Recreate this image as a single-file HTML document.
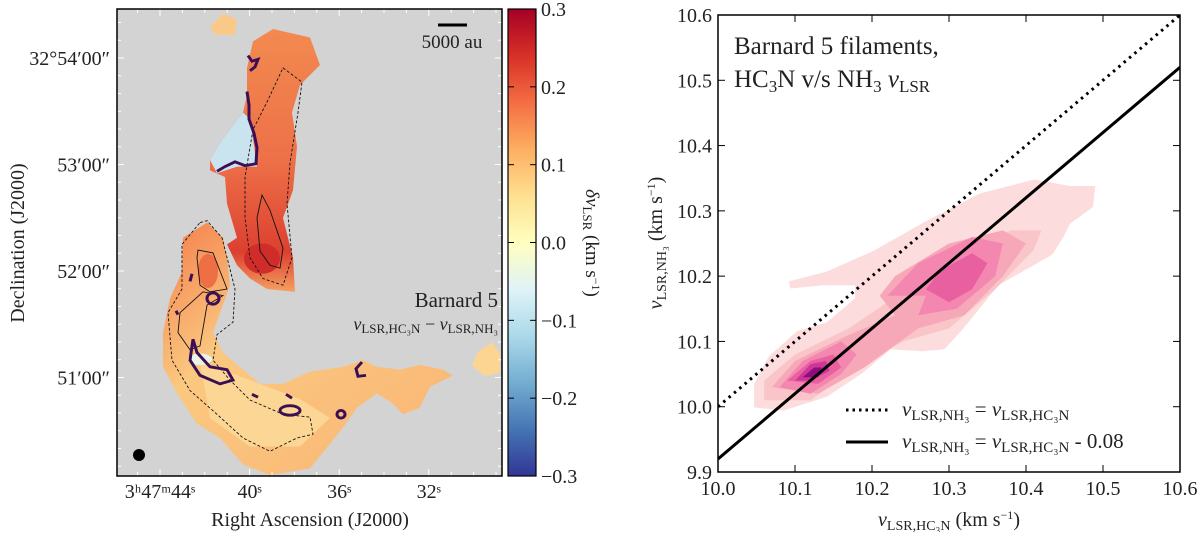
<!DOCTYPE html>
<html><head><meta charset="utf-8">
<style>
body{margin:0;background:#fff;width:1200px;height:532px;overflow:hidden;font-family:"Liberation Serif","DejaVu Serif",serif;}
svg text{font-family:"Liberation Serif","DejaVu Serif",serif;fill:#222}
</style></head>
<body>
<svg id="fig" width="1200" height="532" viewBox="0 0 1200 532" xmlns="http://www.w3.org/2000/svg">
<defs>
<linearGradient id="cmap" x1="0" y1="1" x2="0" y2="0">
<stop offset="0" stop-color="#313695"/><stop offset="0.1" stop-color="#4575b4"/><stop offset="0.2" stop-color="#74add1"/><stop offset="0.3" stop-color="#abd9e9"/><stop offset="0.4" stop-color="#e0f3f8"/><stop offset="0.5" stop-color="#ffffbf"/><stop offset="0.6" stop-color="#fee090"/><stop offset="0.7" stop-color="#fdae61"/><stop offset="0.8" stop-color="#f46d43"/><stop offset="0.9" stop-color="#d73027"/><stop offset="1" stop-color="#a50026"/>
</linearGradient>
<linearGradient id="northg" x1="0" y1="0" x2="0" y2="1">
<stop offset="0" stop-color="#f28a50"/><stop offset="0.5" stop-color="#ee7048"/><stop offset="0.85" stop-color="#dc4030"/><stop offset="1" stop-color="#f6a060"/>
</linearGradient>
<linearGradient id="westg" x1="0" y1="0" x2="1" y2="1">
<stop offset="0" stop-color="#f47d4c"/><stop offset="0.35" stop-color="#fbc880"/><stop offset="1" stop-color="#f9b574"/>
</linearGradient>
<clipPath id="mapclip"><rect x="117" y="9" width="385" height="467"/></clipPath>
<clipPath id="kdeclip"><rect x="718" y="15" width="462" height="457"/></clipPath>
</defs>

<!-- LEFT MAP -->
<g>
<rect x="117" y="9" width="385" height="467" fill="#d3d3d3"/>
<g clip-path="url(#mapclip)">
<g transform="matrix(1,0,0,0.949,0,0.5)">
<polygon fill="url(#northg)" points="253,43 273,30 310,39 320,68 300,89 292,118 297,154 293,200 283,229 293,271 295,307 267,304 250,293 237,279 227,257 237,250 227,214 225,186 210,179 210,168 220,150 243,118 247,100 247,71"/>
<polygon fill="#c9e4ee" points="210,168 220,150 243,118 250,125 257,175 237,175 217,182"/>
<polygon fill="url(#westg)" points="183,250 207,234 223,250 227,271 230,300 220,329 213,350 223,371 243,389 260,404 283,404 310,391 343,386 363,379 377,386 400,389 420,384 443,389 453,395 430,407 420,429 403,436 393,425 377,414 357,429 343,450 327,471 310,493 270,500 243,489 220,461 197,446 177,414 163,386 163,350 170,314 182,286"/>
<ellipse cx="208" cy="285" rx="10" ry="18" fill="#ef6f45"/>
<ellipse cx="262" cy="272" rx="18" ry="16" fill="#cf2c2a"/>
<polygon fill="#fcd694" points="200,380 250,400 300,420 330,440 300,470 250,470 210,440"/>
<ellipse cx="200" cy="378" rx="12" ry="6" fill="#eaf3e8"/>
<polygon fill="#fbc987" points="223,14 237,20 235,36 215,36 210,28"/>
<polygon fill="#fcd592" points="478,370 492,360 500,372 500,392 485,396 472,385"/>
<polygon fill="none" stroke="#111" stroke-width="0.9" stroke-dasharray="3,2" points="283,71 302,86 298,118 290,171 287,214 292,271 283,300 263,293 250,271 245,229 245,186 253,136 267,107"/>
<polygon fill="none" stroke="#111" stroke-width="0.9" stroke-dasharray="3,2" points="200,234 207,232 222,250 235,304 233,339 217,352 213,379 230,400 250,421 283,436 310,439 313,457 297,461 270,475 243,461 217,436 190,411 172,379 168,329 182,304 182,257"/>
<polygon fill="none" stroke="#111" stroke-width="0.9" points="262,205 270,221 283,261 280,282 270,279 260,264 257,229"/>
<polygon fill="none" stroke="#111" stroke-width="0.9" points="198,263 213,266 227,304 210,307 200,300 197,271"/>
<polygon fill="none" stroke="#111" stroke-width="0.9" points="180,329 203,307 223,311 207,321 200,364 190,368 178,350"/>
<g fill="none" stroke="#3b0f55" stroke-width="3">
<path d="M248,58 L252,64 L258,62 L255,70 L250,74"/>
<path d="M247,96 L249,110 L249,125 L254,140 L257,155 L256,172 L245,174 L235,170 L225,175 L217,180"/>
<circle cx="213" cy="314" r="6"/>
<path d="M193,357 L197,371 L210,386 L227,389 L233,400 L220,404 L200,395 L190,379 Z"/>
<ellipse cx="290" cy="432" rx="10" ry="5"/>
<circle cx="341" cy="436" r="4"/>
<path d="M362,381 L356,388 L358,396 L366,395"/>
<path d="M252,415 L258,418 M286,415 L292,419 M192,288 L190,296 M176,327 L178,331"/>
</g>
</g>
<circle cx="139" cy="455" r="6" fill="#000"/>
<line x1="438" y1="25" x2="467" y2="25" stroke="#000" stroke-width="3"/>
<text x="452" y="48" font-size="19" text-anchor="middle">5000 au</text>
<text x="498" y="307" font-size="21" text-anchor="end">Barnard 5</text>
<text x="498" y="330" font-size="18" text-anchor="end"><tspan font-style="italic">v</tspan><tspan font-size="13" dy="3">LSR,HC₃N</tspan><tspan dy="-3"> − </tspan><tspan font-style="italic">v</tspan><tspan font-size="13" dy="3">LSR,NH₃</tspan></text>
</g>
<g id="mapticks" stroke="#fff" stroke-width="1"></g>
<rect x="117" y="9" width="385" height="467" fill="none" stroke="#000" stroke-width="1.5"/>
<g id="maplabels"></g>
<text x="310" y="526" font-size="20" text-anchor="middle">Right Ascension (J2000)</text>
<text transform="translate(24,243) rotate(-90)" font-size="20" text-anchor="middle">Declination (J2000)</text>
</g>

<!-- COLORBAR -->
<g>
<rect x="508" y="9" width="28" height="467" fill="url(#cmap)" stroke="#000" stroke-width="1.2"/>
<g id="cbticks"></g>
<text transform="translate(586,243) rotate(90)" font-size="19" text-anchor="middle"><tspan font-style="italic">δv</tspan><tspan font-size="13" dy="3">LSR</tspan><tspan dy="-3">  (km s</tspan><tspan font-size="12" dy="-6">−1</tspan><tspan dy="6">)</tspan></text>
</g>

<!-- RIGHT PLOT -->
<g>
<g id="kde" clip-path="url(#kdeclip)"></g>
<g id="lines" clip-path="url(#kdeclip)"></g>
<rect x="718" y="15" width="462" height="457" fill="none" stroke="#000" stroke-width="1.5"/>
<g id="rticks"></g>
<text x="734" y="54" font-size="25">Barnard 5 filaments,</text>
<text x="734" y="87" font-size="25">HC<tspan font-size="17" dy="5">3</tspan><tspan dy="-5">N v/s NH</tspan><tspan font-size="17" dy="5">3</tspan><tspan dy="-5" font-style="italic"> v</tspan><tspan font-size="17" dy="5">LSR</tspan></text>
<g>
<line x1="846" y1="410" x2="888" y2="410" stroke="#000" stroke-width="3" stroke-dasharray="2.5,4"/>
<text x="902" y="416" font-size="21"><tspan font-style="italic">v</tspan><tspan font-size="15" dy="4">LSR,NH₃</tspan><tspan dy="-4"> = </tspan><tspan font-style="italic">v</tspan><tspan font-size="15" dy="4">LSR,HC₃N</tspan></text>
<line x1="846" y1="442" x2="888" y2="442" stroke="#000" stroke-width="3"/>
<text x="902" y="448" font-size="21"><tspan font-style="italic">v</tspan><tspan font-size="15" dy="4">LSR,NH₃</tspan><tspan dy="-4"> = </tspan><tspan font-style="italic">v</tspan><tspan font-size="15" dy="4">LSR,HC₃N</tspan><tspan dy="-4"> - 0.08</tspan></text>
</g>
<text x="949" y="526" font-size="20" text-anchor="middle"><tspan font-style="italic">v</tspan><tspan font-size="14" dy="4">LSR,HC₃N</tspan><tspan dy="-4"> (km s</tspan><tspan font-size="12" dy="-7">−1</tspan><tspan dy="7">)</tspan></text>
<text transform="translate(662,243) rotate(-90)" font-size="20" text-anchor="middle"><tspan font-style="italic">v</tspan><tspan font-size="14" dy="4">LSR,NH₃</tspan><tspan dy="-4"> (km s</tspan><tspan font-size="12" dy="-7">−1</tspan><tspan dy="7">)</tspan></text>
</g>
</svg>
<script>
const NS='http://www.w3.org/2000/svg';
// ---- data ----
const xTicks=[10.0,10.1,10.2,10.3,10.4,10.5,10.6];
const yTicks=[9.9,10.0,10.1,10.2,10.3,10.4,10.5,10.6];
const lineOffsets=[0,-0.08];
const lineDash=['2.5,4.5',''];
const kdeColors=['#fcdcdc','#f9c5c8','#f6a8b9','#f387b0','#e8609f','#cd3598','#8e0d7e'];
const kdeLevel1=[[10.047,9.999],[10.047,10.035],[10.066,10.077],[10.103,10.116],[10.141,10.129],[10.178,10.166],[10.178,10.186],[10.136,10.186],[10.094,10.181],[10.092,10.192],[10.141,10.207],[10.201,10.238],[10.271,10.285],[10.341,10.327],[10.411,10.348],[10.457,10.338],[10.490,10.338],[10.487,10.306],[10.457,10.280],[10.448,10.259],[10.434,10.233],[10.364,10.186],[10.318,10.119],[10.294,10.088],[10.266,10.085],[10.224,10.088],[10.187,10.051],[10.141,10.015],[10.085,9.994]];
const kdeLevel2=[[10.06,10.01],[10.06,10.04],[10.10,10.08],[10.17,10.12],[10.22,10.16],[10.30,10.22],[10.38,10.27],[10.42,10.27],[10.41,10.24],[10.36,10.18],[10.30,10.12],[10.24,10.10],[10.18,10.06],[10.12,10.01]];
const kdeLevel3=[[10.07,10.03],[10.10,10.07],[10.17,10.11],[10.23,10.14],[10.21,10.17],[10.23,10.20],[10.30,10.25],[10.37,10.27],[10.40,10.25],[10.37,10.20],[10.32,10.14],[10.26,10.12],[10.19,10.06],[10.13,10.02]];
const kdeLevel4a=[[10.08,10.03],[10.11,10.07],[10.16,10.10],[10.18,10.08],[10.16,10.05],[10.12,10.02]];
const kdeLevel4b=[[10.22,10.17],[10.26,10.22],[10.33,10.26],[10.37,10.25],[10.36,10.20],[10.31,10.15],[10.26,10.14],[10.27,10.17]];
const kdeLevel5a=[[10.09,10.04],[10.12,10.07],[10.15,10.08],[10.16,10.06],[10.13,10.035]];
const kdeLevel5b=[[10.27,10.18],[10.29,10.21],[10.33,10.235],[10.35,10.22],[10.33,10.18],[10.30,10.16]];
const kdeLevel6=[[10.10,10.04],[10.12,10.065],[10.14,10.07],[10.145,10.055],[10.12,10.04]];
const kdeLevel7=[[10.11,10.045],[10.125,10.06],[10.135,10.06],[10.13,10.045]];
const kdePolys=[[kdeLevel1,0],[kdeLevel2,1],[kdeLevel3,2],[kdeLevel4a,3],[kdeLevel4b,3],[kdeLevel5a,4],[kdeLevel5b,4],[kdeLevel6,5],[kdeLevel7,6]];
const cbTicks=[0.3,0.2,0.1,0.0,-0.1,-0.2,-0.3];
const raTicks=[44,40,36,32];
const raLabels=['3ʰ47ᵐ44ˢ','40ˢ','36ˢ','32ˢ'];
const decTicks=[54,53,52,51];
const decLabels=['32°54′00″','53′00″','52′00″','51′00″'];
// ---- axes ----
const X=v=>718+(v-10.0)/0.6*462;
const Y=v=>472-(v-9.9)/0.7*457;
const CB=v=>9+(0.3-v)/0.6*467;
const RA=s=>160+(44-s)*22.4;
const DEC=m=>58+(54-m)*106.5;
function mk(tag,attrs,parent){const e=document.createElementNS(NS,tag);for(const k in attrs)e.setAttribute(k,attrs[k]);parent.appendChild(e);return e;}
const kde=document.getElementById('kde');
kdePolys.forEach(([poly,lvl])=>{
  const p=mk('polygon',{points:poly.map(d=>X(d[0]).toFixed(1)+','+Y(d[1]).toFixed(1)).join(' '),fill:kdeColors[lvl]},kde);
  
  
});
const lg=document.getElementById('lines');
lineOffsets.forEach((o,i)=>{
  const l=mk('line',{x1:X(10.0),y1:Y(10.0+o),x2:X(10.6),y2:Y(10.6+o),stroke:'#000','stroke-width':3},lg);
  if(lineDash[i])l.setAttribute('stroke-dasharray',lineDash[i]);
  
  
});
const rt=document.getElementById('rticks');
xTicks.forEach(v=>{
  mk('line',{x1:X(v),y1:472,x2:X(v),y2:465,stroke:'#000'},rt);mk('line',{x1:X(v),y1:15,x2:X(v),y2:22,stroke:'#000'},rt);
  const t=mk('text',{x:X(v),y:495,'font-size':20,'text-anchor':'middle'},rt);t.textContent=v.toFixed(1);
  
  
});
yTicks.forEach(v=>{
  mk('line',{x1:718,y1:Y(v),x2:725,y2:Y(v),stroke:'#000'},rt);mk('line',{x1:1180,y1:Y(v),x2:1173,y2:Y(v),stroke:'#000'},rt);
  const t=mk('text',{x:712,y:Y(v)+7,'font-size':20,'text-anchor':'end'},rt);t.textContent=v.toFixed(1);
  
  
});
const cb=document.getElementById('cbticks');
cbTicks.forEach(v=>{
  mk('line',{x1:508,y1:CB(v),x2:514,y2:CB(v),stroke:'#000'},cb);mk('line',{x1:536,y1:CB(v),x2:530,y2:CB(v),stroke:'#000'},cb);
  const t=mk('text',{x:541,y:CB(v)+7,'font-size':20},cb);t.textContent=(v<0?'−':'')+Math.abs(v).toFixed(1);
  
  
});
const mt=document.getElementById('mapticks'),ml=document.getElementById('maplabels');
for(let s=46;s>=29;s--){const x=RA(s);if(x<118||x>501)continue;const L=raTicks.includes(s)?7:4;mk('line',{x1:x,y1:476,x2:x,y2:476-L},mt);mk('line',{x1:x,y1:9,x2:x,y2:9+L},mt);}
for(let m=54.5;m>=50.0;m-=1/6){const y=DEC(m);if(y<10||y>475)continue;mk('line',{x1:117,y1:y,x2:121,y2:y},mt);mk('line',{x1:502,y1:y,x2:498,y2:y},mt);}
decTicks.forEach(m=>{mk('line',{x1:117,y1:DEC(m),x2:124,y2:DEC(m)},mt);mk('line',{x1:502,y1:DEC(m),x2:495,y2:DEC(m)},mt);});
raTicks.forEach((s,i)=>{const t=mk('text',{x:RA(s),y:498,'font-size':20,'text-anchor':'middle'},ml);t.textContent=raLabels[i];
  
  });
decTicks.forEach((m,i)=>{const t=mk('text',{x:110,y:DEC(m)+7,'font-size':20,'text-anchor':'end'},ml);t.textContent=decLabels[i];
  
  });
</script>
</body></html>
